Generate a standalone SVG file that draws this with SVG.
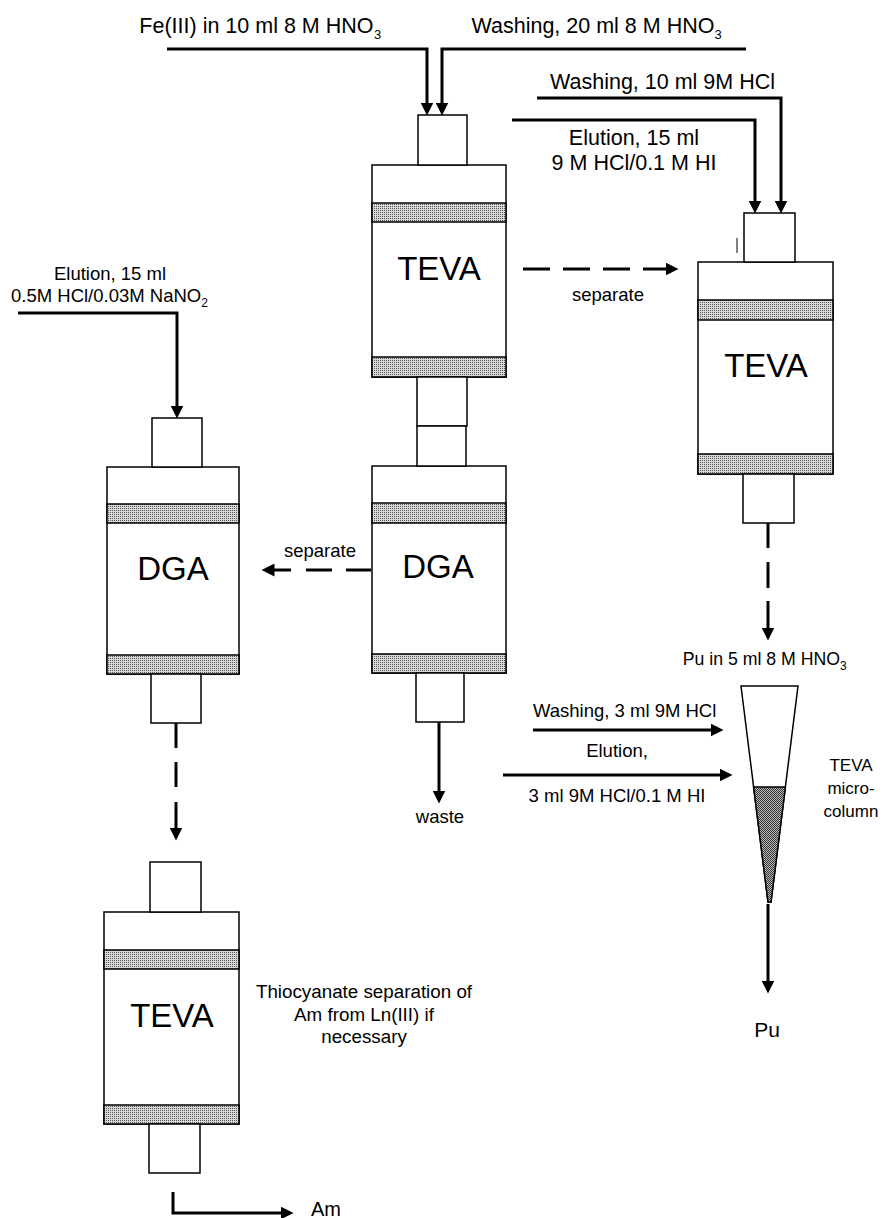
<svg xmlns="http://www.w3.org/2000/svg" width="883" height="1218" viewBox="0 0 883 1218">
<defs>
<style>
.box{fill:#fff;stroke:#000;stroke-width:1.5}
.frit{fill:url(#fritPat);stroke:#000;stroke-width:1.5}
.flow{fill:none;stroke:#000;stroke-width:3;stroke-linejoin:miter;marker-end:url(#ah)}
.line{fill:none;stroke:#000;stroke-width:3}
text{font-family:"Liberation Sans",Arial,Helvetica,sans-serif;fill:#000}
.big{font-size:33px;text-anchor:middle}
.lab{font-size:21.5px}
.sm{font-size:18.5px}
.mid{text-anchor:middle}
</style>
<pattern id="fritPat" width="2" height="2" patternUnits="userSpaceOnUse">
<rect width="2" height="2" fill="#d8d8d8"/>
<rect width="1" height="1" fill="#555"/>
</pattern>
<pattern id="conePat" width="2" height="2" patternUnits="userSpaceOnUse">
<rect width="2" height="2" fill="#bbb"/>
<rect width="1" height="1" fill="#333"/>
<rect x="1" y="1" width="1" height="1" fill="#333"/>
</pattern>
<marker id="ah" markerUnits="userSpaceOnUse" markerWidth="13" markerHeight="13" refX="6" refY="6" orient="auto" viewBox="0 0 12 12">
<path d="M0,0 L12,6 L0,12 z" fill="#000"/>
</marker>
</defs>
<rect width="883" height="1218" fill="#fff"/>

<g id="teva-main">
<rect class="box" x="372" y="165" width="134" height="212"/>
<rect class="frit" x="372" y="203" width="134" height="19"/>
<rect class="frit" x="372" y="357" width="134" height="20"/>
<rect class="box" x="418" y="115" width="49" height="50"/>
<rect class="box" x="417" y="377" width="50" height="49"/>
<text class="big" x="439" y="280">TEVA</text>
</g>

<g id="dga-main">
<rect class="box" x="372" y="466" width="134" height="207"/>
<rect class="frit" x="372" y="503" width="134" height="20"/>
<rect class="frit" x="372" y="654" width="134" height="19"/>
<rect class="box" x="417" y="426" width="49" height="40"/>
<rect class="box" x="416" y="673" width="48" height="49"/>
<text class="big" x="438" y="578">DGA</text>
</g>

<g id="teva-pu">
<rect class="box" x="698" y="262" width="135" height="212"/>
<rect class="frit" x="698" y="300" width="135" height="20"/>
<rect class="frit" x="698" y="454" width="135" height="20"/>
<rect class="box" x="744" y="213" width="51" height="49"/>
<rect class="box" x="743" y="474" width="51" height="49"/>
<line x1="737" y1="238" x2="737" y2="253" stroke="#000" stroke-width="1"/>
<text class="big" x="766" y="377">TEVA</text>
</g>

<g id="dga-am">
<rect class="box" x="107" y="467" width="132" height="207"/>
<rect class="frit" x="107" y="504" width="132" height="19"/>
<rect class="frit" x="107" y="655" width="132" height="19"/>
<rect class="box" x="152" y="418" width="50" height="49"/>
<rect class="box" x="151" y="674" width="50" height="49"/>
<text class="big" x="173" y="580">DGA</text>
</g>

<g id="teva-am">
<rect class="box" x="104" y="912" width="135" height="212"/>
<rect class="frit" x="104" y="950" width="135" height="19"/>
<rect class="frit" x="104" y="1105" width="135" height="19"/>
<rect class="box" x="150" y="862" width="51" height="50"/>
<rect class="box" x="149" y="1124" width="51" height="49"/>
<text class="big" x="172" y="1027">TEVA</text>
</g>

<g id="teva-micro">
<polygon points="741,686 798,686 771,902 768,902" fill="#fff" stroke="#000" stroke-width="1.5"/>
<polygon points="753.6,787 785.4,787 771,902 768,902" fill="url(#conePat)" stroke="#000" stroke-width="1.5"/>
<text class="mid" style="font-size:17px" x="851" y="771">TEVA</text>
<text class="mid" style="font-size:17px" x="851" y="794">micro-</text>
<text class="mid" style="font-size:17px" x="851" y="817">column</text>
</g>

<g id="connectors">
<path class="flow" d="M167,49 H427 V109"/>
<path class="flow" d="M746,49 H442 V109"/>
<path class="flow" d="M537,98 H781 V207"/>
<path class="flow" d="M512,120 H755 V207"/>
<path class="flow" d="M18,313 H177 V412"/>
<path class="flow" d="M439,722 V797"/>
<path class="flow" d="M533,730 H717"/>
<path class="flow" d="M503,775 H726"/>
<path class="flow" d="M768,904 V987"/>
<path class="flow" d="M173,1192 V1213 H287"/>
<path class="flow" d="M523,269 H672" stroke-dasharray="27 13 27 13 27 13 40"/>
<path class="flow" d="M371,570 H268" stroke-dasharray="25 14 26 15 40"/>
<path class="flow" d="M768,523 V634" stroke-dasharray="25 14 26 13 40"/>
<path class="flow" d="M176,723 V834" stroke-dasharray="25 14 25 15 40"/>
</g>

<g id="labels">
<text class="lab" x="373.5" y="33" text-anchor="end">Fe(III) in 10 ml 8 M HNO</text>
<text style="font-size:13px" x="374" y="39">3</text>
<text class="lab" x="471.5" y="33">Washing, 20 ml 8 M HNO<tspan dy="6" style="font-size:13px">3</tspan></text>
<text class="lab" x="550" y="89">Washing, 10 ml 9M HCl</text>
<text class="lab mid" x="634" y="145">Elution, 15 ml</text>
<text class="lab mid" x="634" y="170">9 M HCl/0.1 M HI</text>
<text class="sm mid" x="608" y="301">separate</text>
<text class="sm mid" x="110" y="280">Elution, 15 ml</text>
<text class="sm" x="11" y="302">0.5M HCl/0.03M NaNO<tspan dy="5" style="font-size:12px">2</tspan></text>
<text class="sm mid" x="320" y="557">separate</text>
<text class="sm mid" x="440" y="823">waste</text>
<text style="font-size:17.7px" x="682.7" y="665">Pu in 5 ml 8 M HNO<tspan dy="5" style="font-size:12px">3</tspan></text>
<text class="sm" x="533" y="717">Washing, 3 ml 9M HCl</text>
<text class="sm mid" x="617" y="757">Elution,</text>
<text class="sm mid" x="617" y="802">3 ml 9M HCl/0.1 M HI</text>
<text class="mid" style="font-size:21px" x="767" y="1037">Pu</text>
<text style="font-size:18.8px" text-anchor="middle" x="364" y="998">Thiocyanate separation of</text>
<text style="font-size:18.8px" text-anchor="middle" x="364" y="1021">Am from Ln(III) if</text>
<text style="font-size:18.8px" text-anchor="middle" x="364" y="1043">necessary</text>
<text style="font-size:20px" x="311" y="1216">Am</text>
</g>
</svg>
